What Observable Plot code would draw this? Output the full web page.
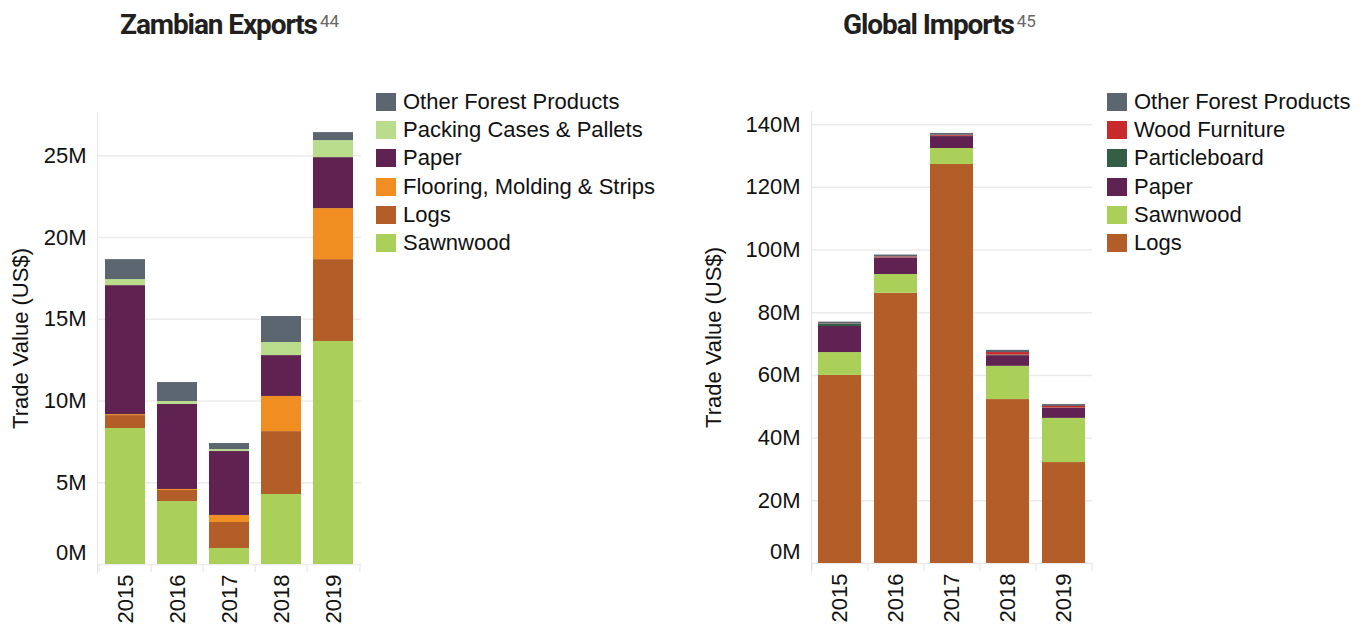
<!DOCTYPE html>
<html><head><meta charset="utf-8">
<script src="https://cdn.jsdelivr.net/npm/d3@7"></script>
<script src="https://cdn.jsdelivr.net/npm/@observablehq/plot@0.6"></script>
<style>
body{margin:0;background:#fff;}
#root{position:relative;width:1372px;height:624px;overflow:hidden;font-family:"Liberation Sans",Arial,sans-serif;color:#111;}
.title{position:absolute;top:7px;font-family:Roboto,sans-serif;font-weight:700;font-size:28px;letter-spacing:-1.1px;color:#231f20;white-space:nowrap;line-height:36px}
.title sup{font-weight:400;font-size:17px;color:#666;letter-spacing:0;vertical-align:top;position:relative;top:-4px;margin-left:3px}
.chart{position:absolute;top:60px}
.legend{position:absolute;top:88px;font-size:22px;}
.legend .row{display:flex;align-items:center;height:28.2px;white-space:nowrap}
.legend .sw{width:20px;height:18px;margin-right:7px;flex:none}
</style></head>
<body>
<div id="root">
  <div class="title" style="left:120px">Zambian Exports<sup>44</sup></div>
  <div class="title" style="left:843px">Global Imports<sup>45</sup></div>
  <div id="left" class="chart" style="left:0px"></div>
  <div id="right" class="chart" style="left:690px"></div>
  <div id="legL" class="legend" style="left:376px"></div>
  <div id="legR" class="legend" style="left:1107px"></div>
</div>
<script>
// ---------- DATA ----------
const years = ["2015", "2016", "2017", "2018", "2019"];

// Zambian Exports (US$ millions), stacking order bottom -> top
const zambiaProducts = ["Sawnwood", "Logs", "Flooring, Molding & Strips", "Paper", "Packing Cases & Pallets", "Other Forest Products"];
const zambiaColors   = ["#abd05a", "#b35e28", "#f18e21", "#5f2251", "#badc8d", "#5c6670"];
const zSawnwood = [8.32, 3.85, 0.98, 4.28, 13.64];
const zLogs     = [0.79, 0.68, 1.59, 3.85, 5.01];
const zFlooring = [0.06, 0.06, 0.43, 2.15, 3.12];
const zPaper    = [7.89, 5.20, 3.91, 2.50, 3.12];
const zPacking  = [0.37, 0.18, 0.12, 0.80, 1.04];
const zOther    = [1.22, 1.16, 0.37, 1.59, 0.49];
const zambiaSeries = [zSawnwood, zLogs, zFlooring, zPaper, zPacking, zOther];
const zambiaTicks = [0, 5, 10, 15, 20, 25];
const zambiaMax = 27.65;

// Global Imports (US$ millions), stacking order bottom -> top
const globalProducts = ["Logs", "Sawnwood", "Paper", "Particleboard", "Wood Furniture", "Other Forest Products"];
const globalColors   = ["#b35e28", "#abd05a", "#5f2251", "#335e45", "#c8292b", "#5c6670"];
const gLogs     = [60.0, 86.2, 127.3, 52.3, 32.2];
const gSawnwood = [7.3, 6.0, 5.1, 10.6, 14.1];
const gPaper    = [8.3, 5.2, 3.8, 3.4, 3.2];
const gParticle = [0.7, 0.1, 0.1, 0.2, 0.1];
const gFurniture= [0.1, 0.3, 0.3, 0.8, 0.5];
const gOther    = [0.6, 0.6, 0.6, 0.7, 0.6];
const globalSeries = [gLogs, gSawnwood, gPaper, gParticle, gFurniture, gOther];
const globalTicks = [0, 20, 40, 60, 80, 100, 120, 140];
const globalMax = 144.2;

// ---------- BUILD ----------
function table(products, series) {
  const rows = [];
  products.forEach((p, i) => years.forEach((y, j) => rows.push({year: y, product: p, value: series[i][j] * 1e6})));
  return rows;
}
const fmt = d => (d / 1e6) + "M";

function chart({data, products, colors, width, height, marginLeft, marginRight, marginTop, marginBottom, yMax, ticks, labelOffset}) {
  const step = (width - marginLeft - marginRight) / years.length;
  const t = ticks.map(d => d * 1e6);
  return Plot.plot({
    width, height, marginLeft, marginRight, marginTop, marginBottom,
    style: {fontFamily: '"Liberation Sans", Arial, sans-serif', fontSize: "22px", color: "#111", background: "transparent", overflow: "visible"},
    x: {domain: years, paddingInner: 0.24, paddingOuter: 0.12, label: null},
    y: {domain: [0, yMax * 1e6], label: null},
    color: {domain: products, range: colors},
    marks: [
      Plot.gridY(t, {stroke: "#ececec", strokeOpacity: 1, strokeWidth: 1.5}),
      Plot.frame({anchor: "left", stroke: "#e6e6e6", insetBottom: -9}),
      Plot.barY(data, {x: "year", y: "value", fill: "product", order: products}),
      Plot.axisY(t.filter(d => d > 0), {tickSize: 0, tickPadding: 11, tickFormat: fmt, label: "Trade Value (US$)", labelAnchor: "center", labelArrow: "none", labelOffset}),
      Plot.axisY([0], {tickSize: 0, tickPadding: 11, tickFormat: fmt, dy: -12, label: null}),
      Plot.axisX({tickSize: 0, tickRotate: -90, tickPadding: 10, label: null}),
      Plot.axisX(years, {tickSize: 8, tickFormat: () => "", stroke: "#e3e3e3", dx: -step / 2, label: null}),
      Plot.axisX([years[years.length - 1]], {tickSize: 8, tickFormat: () => "", stroke: "#e3e3e3", dx: step / 2, label: null})
    ]
  });
}

document.getElementById("left").append(chart({
  data: table(zambiaProducts, zambiaSeries), products: zambiaProducts, colors: zambiaColors,
  width: 370, height: 564, marginLeft: 97, marginRight: 9, marginTop: 52, marginBottom: 60,
  yMax: zambiaMax, ticks: zambiaTicks, labelOffset: 85
}));
document.getElementById("right").append(chart({
  data: table(globalProducts, globalSeries), products: globalProducts, colors: globalColors,
  width: 410, height: 564, marginLeft: 121, marginRight: 8, marginTop: 51, marginBottom: 61,
  yMax: globalMax, ticks: globalTicks, labelOffset: 106
}));

function legend(id, products, colors) {
  const el = d3.select("#" + id);
  const items = products.map((p, i) => ({p, c: colors[i]})).reverse();
  const row = el.selectAll(".row").data(items).join("div").attr("class", "row");
  row.append("div").attr("class", "sw").style("background", d => d.c);
  row.append("span").text(d => d.p);
}
legend("legL", zambiaProducts, zambiaColors);
legend("legR", globalProducts, globalColors);
</script>
</body></html>
